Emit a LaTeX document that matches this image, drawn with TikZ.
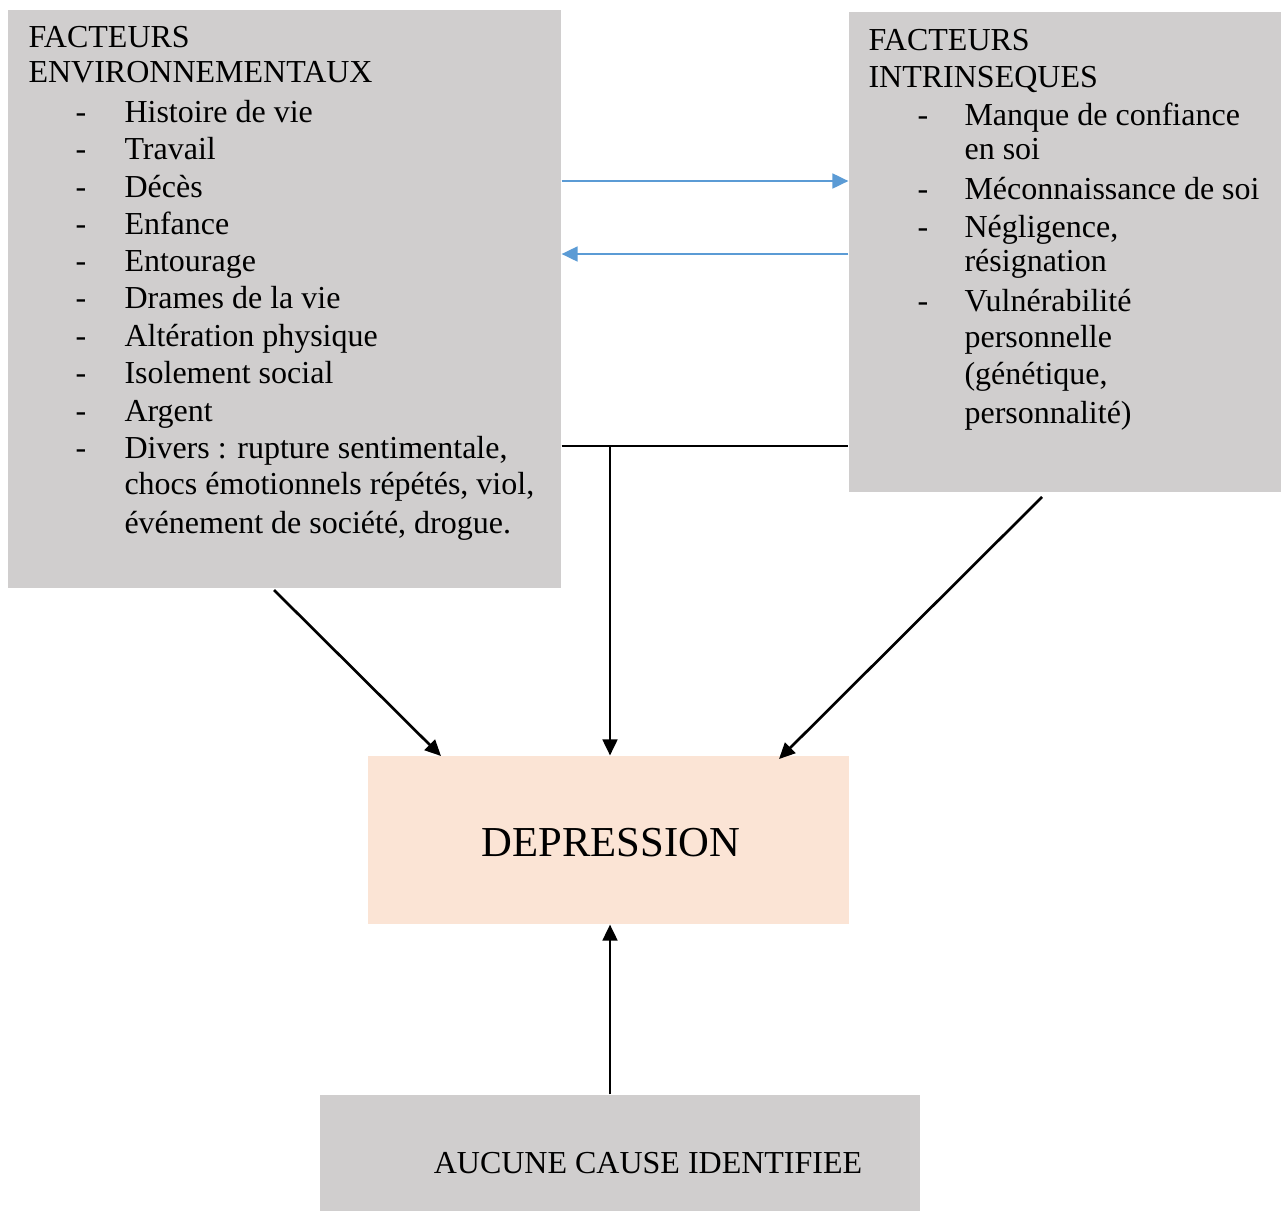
\documentclass[tikz,border=0pt]{standalone}
\usepackage{fontspec}
\setmainfont{Liberation Serif}
\usetikzlibrary{arrows.meta,fit}
\definecolor{boxgray}{HTML}{D0CECE}
\definecolor{peach}{HTML}{FBE4D5}
\definecolor{linkblue}{HTML}{5B9BD5}

\begin{document}
\begin{tikzpicture}[x=0.375pt, y=-0.375pt,
		box/.style={rectangle, inner sep=0pt, fill=boxgray},
		txt/.style={anchor=base west, inner sep=0pt, font=\fontsize{12}{14}\selectfont},
		tip/.style={-{Triangle[length=6pt,width=5.5pt]}},
		link/.style={black, line width=1pt},
		bluelink/.style={linkblue, line width=1pt}]
		\useasboundingbox (0,0) rectangle (1287,1211);
		% boxes
		\node[box, fit={(8,10) (561,588)}] (env) {};
		\node[box, fit={(849,12) (1281,492)}] (intr) {};
		\node[box, fill=peach, fit={(368,756) (849,924)}] (dep) {};
		\node[box, fit={(320,1095) (920,1211)}] (aucune) {};
		% environmental factors
		\node[txt] (envtitle) at (28,47) {FACTEURS};
		\node[txt] (envsub) at (28,82) {ENVIRONNEMENTAUX};
		\foreach \y/\t [count=\i] in {122/Histoire de vie, 159/Travail, 197/Décès, 234/Enfance, 271/Entourage, 308/Drames de la vie, 346/Altération physique, 383/Isolement social, 421/Argent}{
			\node[txt] (envdash\i) at (75,\y) {-};
			\node[txt] (envitem\i) at (124,\y) {\t};
		}
		\node[txt] (envdash10) at (75,458) {-};
		\node[txt] (envitem10) at (124,458) {Divers : rupture sentimentale,};
		\node[txt] (envitem10b) at (124,494) {chocs émotionnels répétés, viol,};
		\node[txt] (envitem10c) at (124,533) {événement de société, drogue.};
		% intrinsic factors
		\node[txt] (intrtitle) at (868,50) {FACTEURS};
		\node[txt] (intrsub) at (868,87) {INTRINSEQUES};
		\foreach \y [count=\i] in {125,199,237,311}{
			\node[txt] (intrdash\i) at (917,\y) {-};
		}
		\node[txt] (intritem1) at (964,125) {Manque de confiance};
		\node[txt] (intritem1b) at (964,159) {en soi};
		\node[txt] (intritem2) at (964,199) {Méconnaissance de soi};
		\node[txt] (intritem3) at (964,237) {Négligence,};
		\node[txt] (intritem3b) at (964,271) {résignation};
		\node[txt] (intritem4) at (964,311) {Vulnérabilité};
		\node[txt] (intritem4b) at (964,347) {personnelle};
		\node[txt] (intritem4c) at (964,384) {(génétique,};
		\node[txt] (intritem4d) at (964,423) {personnalité)};
		% labels
		\node[anchor=base, inner sep=0pt, font=\fontsize{16}{19}\selectfont] (deplabel) at (611,856) {DEPRESSION};
		\node[anchor=base, inner sep=0pt, font=\fontsize{12}{14}\selectfont] (aucunelabel) at (648,1173) {AUCUNE CAUSE IDENTIFIEE};
		% connectors
		\coordinate (rowA) at (0,181);
		\coordinate (rowB) at (0,254);
		\coordinate (rowC) at (0,446);
		\coordinate (split) at (610,446);
		\coordinate (envfoot) at (274,590);
		\coordinate (depleft) at (441,756);
		\coordinate (intrfoot) at (1042,497);
		\coordinate (depright) at (779,759);
		\draw[bluelink, tip] (env.east |- rowA) -- (intr.west |- rowA);
		\draw[bluelink, tip] (intr.west |- rowB) -- (env.east |- rowB);
		\draw[link] (env.east |- rowC) -- (intr.west |- rowC);
		\draw[link, tip] (split) -- (split |- dep.north);
		\draw[link, tip] (envfoot) -- (depleft);
		\draw[link, tip] (intrfoot) -- (depright);
		\draw[link, tip] (split |- aucune.north) -- (split |- dep.south);
	\end{tikzpicture}
\end{document}
